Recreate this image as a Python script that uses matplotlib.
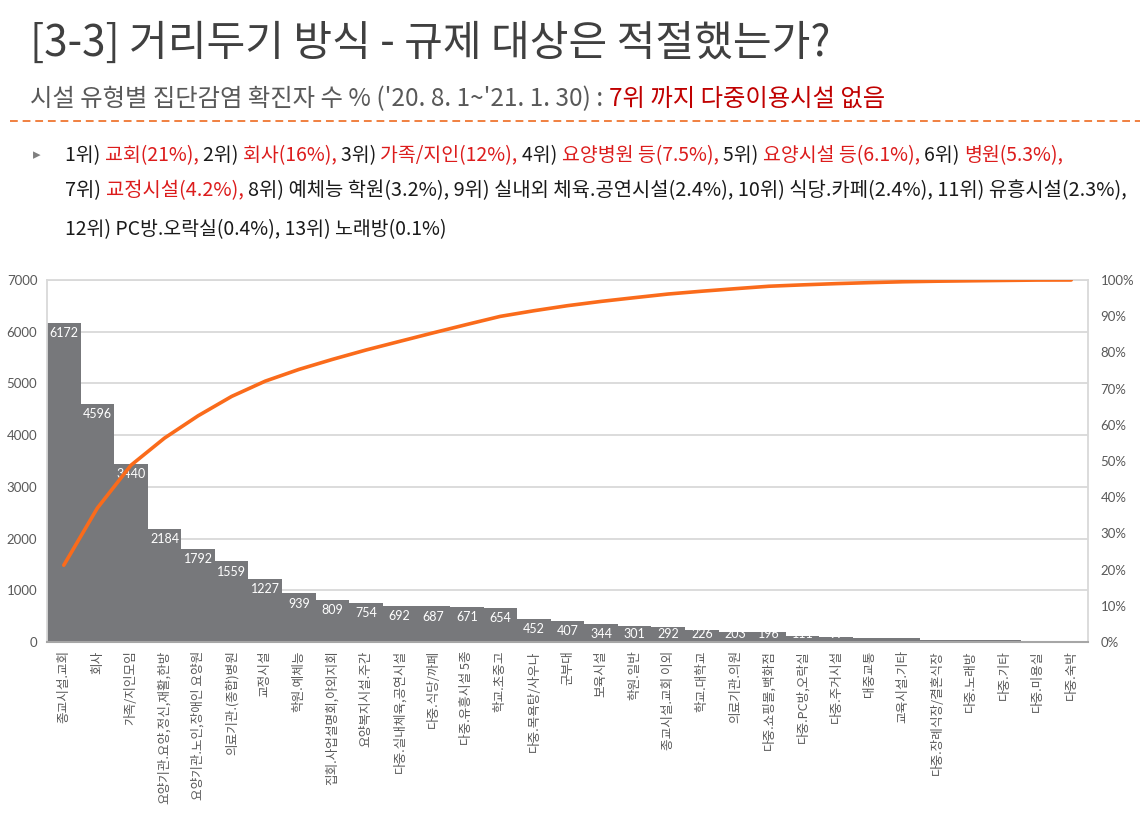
import numpy as np
import matplotlib
matplotlib.use("Agg")
import matplotlib.pyplot as plt
from matplotlib.lines import Line2D

# ---------------- data ----------------
categories = [
    "종교시설.교회", "회사", "가족/지인모임", "요양기관.요양,정신,재활,한방",
    "요양기관.노인,장애인 요양원", "의료기관.(종합)병원", "교정시설", "학원.예체능",
    "집회.사업설명회,야외지회", "요양복지시설.주간", "다중.실내체육,공연시설",
    "다중.식당/까페", "다중.유흥시설 5종", "학교.초중고", "다중.목욕탕/사우나",
    "군부대", "보육시설", "학원.일반", "종교시설.교회 이외", "학교.대학교",
    "의료기관.의원", "다중.쇼핑몰,백화점", "다중.PC방,오락실", "다중.주거시설",
    "대중교통", "교육시설.기타", "다중.장례식장/결혼식장", "다중.노래방",
    "다중.기타", "다중.미용실", "다중.숙박",
]
cases = [6172, 4596, 3440, 2184, 1792, 1559, 1227, 939, 809, 754, 692, 687,
         671, 654, 452, 407, 344, 301, 292, 226, 203, 196, 111, 99, 80, 70,
         45, 33, 30, 28, 6]
left_ticks = [0, 1000, 2000, 3000, 4000, 5000, 6000, 7000]
right_ticks = [0, 10, 20, 30, 40, 50, 60, 70, 80, 90, 100]

title = "[3-3] 거리두기 방식 - 규제 대상은 적절했는가?"
subtitle_gray = "시설 유형별 집단감염 확진자 수 % ('20. 8. 1~'21. 1. 30) : "
subtitle_red = "7위 까지 다중이용시설 없음"

BLACK = "#1a1a1a"
RED = "#dc1c1c"
body_lines = [
    [("1위) ", BLACK), ("교회(21%), ", RED), ("2위) ", BLACK), ("회사(16%), ", RED),
     ("3위) ", BLACK), ("가족/지인(12%), ", RED), ("4위) ", BLACK),
     ("요양병원 등(7.5%), ", RED), ("5위) ", BLACK), ("요양시설 등(6.1%), ", RED),
     ("6위) ", BLACK), ("병원(5.3%),", RED)],
    [("7위) ", BLACK), ("교정시설(4.2%), ", RED),
     ("8위) 예체능 학원(3.2%), 9위) 실내외 체육.공연시설(2.4%), 10위) 식당.카페(2.4%), 11위) 유흥시설(2.3%),", BLACK)],
    [("12위) PC방.오락실(0.4%), 13위) 노래방(0.1%)", BLACK)],
]

# ---------------- figure ----------------
W, H = 1140, 813
fig = plt.figure(figsize=(W / 100, H / 100), dpi=100)
fig.patch.set_facecolor("white")
renderer = fig.canvas.get_renderer()
KFONT = ["Noto Sans CJK KR", "DejaVu Sans"]


def adv(s, size, weight="normal"):
    t = fig.text(0, 0, s + "|", fontsize=size, family=KFONT, weight=weight)
    w = t.get_window_extent(renderer).width
    t.remove()
    t = fig.text(0, 0, "|", fontsize=size, family=KFONT, weight=weight)
    w2 = t.get_window_extent(renderer).width
    t.remove()
    return w - w2


def draw_segments(x_px, y_center_px, segs, target_w, base=12, weight="normal"):
    full = "".join(s for s, _ in segs).rstrip()
    size = base * target_w / adv(full, base, weight)
    size_px = size * 100 / 72
    baseline = y_center_px + 0.37 * size_px
    prefix = ""
    for s, c in segs:
        x = x_px + (adv(prefix, size, weight) if prefix else 0)
        fig.text(x / W, 1 - baseline / H, s, fontsize=size, family=KFONT,
                 color=c, weight=weight, ha="left", va="baseline")
        prefix += s
    return size


# title & subtitle
draw_segments(30, 40, [(title, "#404040")], 803)
draw_segments(30, 97, [(subtitle_gray, "#595959"), (subtitle_red, "#c00000")], 858)

# dashed separator
fig.add_artist(Line2D([10 / W, 1.0], [1 - 121 / H, 1 - 121 / H], transform=fig.transFigure,
                      color="#f08040", lw=1.4, dashes=(4, 2.5)))

# bullet
fig.text(33 / W, 1 - 155 / H, "▸", fontsize=11, family=["DejaVu Sans"], color="#7f7f7f",
         ha="left", va="center")

# body lines, each fitted to the reference line width
centers = [154, 189, 228]
widths = [998, 1063, 382]
for segs, yc, tw in zip(body_lines, centers, widths):
    draw_segments(65, yc, segs, tw)

# ---------------- chart ----------------
ax = fig.add_axes([47 / W, 1 - 642 / H, (1088 - 47) / W, (642 - 280) / H])
x = np.arange(len(cases))
ax.bar(x, cases, width=1.0, color="#77787b", zorder=2)
ax.set_xlim(-0.5, len(cases) - 0.5)
ax.set_ylim(0, 7000)
ax.set_yticks(left_ticks)
ax.set_yticklabels([str(v) for v in left_ticks], family="Lato", fontsize=9.5, color="#595959")
ax.grid(axis="y", color="#d9d9d9", lw=1.3, zorder=0)
ax.set_axisbelow(True)
ax.set_xticks(x)
ax.set_xticklabels(categories, rotation=90, family=KFONT, fontsize=9.1, color="#595959")
ax.tick_params(axis="both", length=0)
ax.tick_params(axis="y", pad=7)
ax.tick_params(axis="x", pad=6)
for side in ["left", "right", "top"]:
    ax.spines[side].set_color("#d9d9d9")
    ax.spines[side].set_linewidth(1.3)
ax.spines["bottom"].set_color("#a6a6a6")
ax.spines["bottom"].set_linewidth(1.5)

# value labels inside the bar tops; short bars keep their label above the axis line
for xi, v in zip(x, cases):
    if v >= 320:
        ax.annotate(str(v), (xi, v), xytext=(0, -3), textcoords="offset points",
                    ha="center", va="top", color="white", fontsize=9, family="Lato",
                    zorder=3)
    else:
        ax.annotate(str(v), (xi, 0), xytext=(0, 1.5), textcoords="offset points",
                    ha="center", va="bottom", color="white", fontsize=9, family="Lato",
                    zorder=3)

ax2 = ax.twinx()
cum = np.cumsum(cases) / np.sum(cases) * 100
ax2.plot(x, cum, color="#fa6b1b", lw=2.6, solid_capstyle="round", zorder=5)
ax2.set_ylim(0, 100)
ax2.set_yticks(right_ticks)
ax2.set_yticklabels([f"{v}%" for v in right_ticks], family="Lato", fontsize=9.5, color="#595959")
ax2.tick_params(axis="y", length=0, pad=9)
for side in ["left", "right", "top", "bottom"]:
    ax2.spines[side].set_visible(False)

fig.savefig("out.png", dpi=100, facecolor="white")
